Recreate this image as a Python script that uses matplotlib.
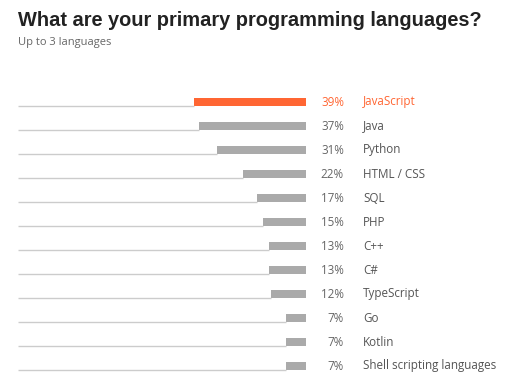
import matplotlib
matplotlib.use("Agg")
import matplotlib.pyplot as plt

# survey data
languages = ["JavaScript", "Java", "Python", "HTML / CSS", "SQL", "PHP", "C++", "C#",
             "TypeScript", "Go", "Kotlin", "Shell scripting languages"]
shares = [39, 37, 31, 22, 17, 15, 13, 13, 12, 7, 7, 7]

W, H = 516, 387
fig = plt.figure(figsize=(W / 100, H / 100), dpi=100)

# bar area: x 18..306 px, rows centred from 102 to 366 px
ax = fig.add_axes([18 / W, (H - 378) / H, 288 / W, 288 / H])
ax.set_xlim(100, 0)
ax.set_ylim(len(languages) - 0.5, -0.5)
ax.axis("off")

orange = "#ff6633"
gray = "#aaaaaa"
bar_h = 0.34
px = 100 / 288  # data units per pixel

for i, (lang, v) in enumerate(zip(languages, shares)):
    col = orange if i == 0 else gray
    ax.barh(i, v, height=bar_h, left=0, color=col)
    ax.hlines(i + bar_h / 2 - 0.02, v, 100, color="#cccccc", lw=1)
    tcol = orange if i == 0 else "#666666"
    ax.text(-38 * px, i, f"{v}%", ha="right", va="center", fontsize=8.4,
            color=tcol, family="Open Sans", clip_on=False)
    ax.text(-57 * px, i, lang, ha="left", va="center", fontsize=8.4,
            color=orange if i == 0 else "#555555", family="Open Sans", clip_on=False)

fig.text(18 / W, 1 - 20 / H, "What are your primary programming languages?",
         fontsize=14.4, fontweight="bold", family="Liberation Sans", color="#222222",
         ha="left", va="center")
fig.text(18 / W, 1 - 42 / H, "Up to 3 languages", fontsize=8, family="Open Sans",
         color="#666666", ha="left", va="center")

fig.savefig("out.png", dpi=100)
